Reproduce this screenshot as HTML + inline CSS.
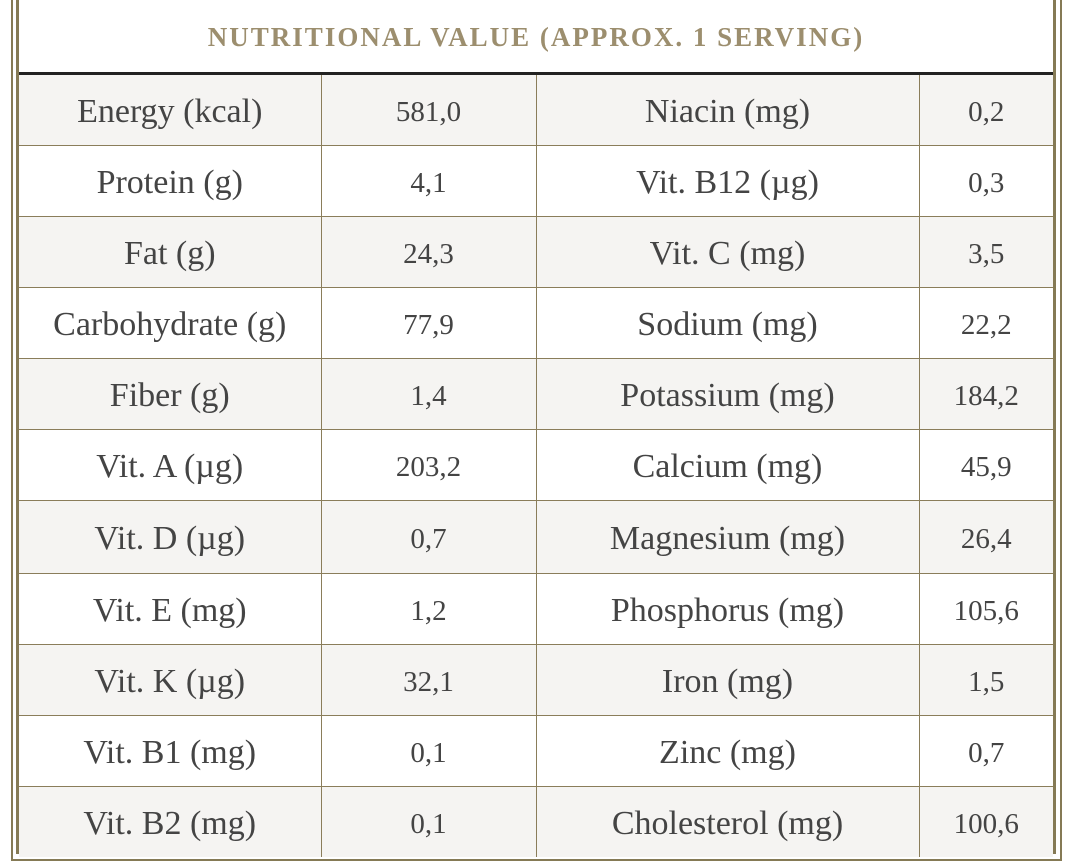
<!DOCTYPE html>
<html><head><meta charset="utf-8"><style>
body{margin:0;width:1070px;height:865px;background:#fff;position:relative;overflow:hidden;font-family:"Liberation Serif",serif;}
.ob{position:absolute;left:11px;top:-5px;width:1047px;height:864px;border:2px solid #857a55;border-top:none;}
.ib{position:absolute;left:16px;top:-5px;width:1034px;height:856px;border:3px solid #857a55;border-top:none;}
.title{position:absolute;left:19px;top:22px;width:1034px;text-align:center;font-weight:bold;font-size:27px;letter-spacing:2px;color:#9c8e6e;}
.hl{position:absolute;left:19px;top:72px;width:1034px;height:3px;background:#222;}
table{position:absolute;left:19px;top:75px;width:1034px;border-collapse:collapse;table-layout:fixed;}
td{height:70px;border:1px solid #8a7d5a;text-align:center;color:#444;font-size:34px;padding:4px 0 0 0;box-sizing:border-box;line-height:66px;}
td.n{font-size:29px;}
tr:nth-child(odd) td{background:#f5f4f2;}
tr:first-child td{border-top:none;}
td:first-child{border-left:none;} td:last-child{border-right:none;}
tr:last-child td{border-bottom:none;}
</style></head><body>
<div class="ob"></div>
<div class="ib"></div>
<div class="title">NUTRITIONAL VALUE (APPROX. 1 SERVING)</div>
<div class="hl"></div>
<table>
<colgroup><col style="width:302px"><col style="width:215px"><col style="width:383px"><col style="width:134px"></colgroup>
<tr><td>Energy (kcal)</td><td class="n">581,0</td><td>Niacin (mg)</td><td class="n">0,2</td></tr>
<tr><td>Protein (g)</td><td class="n">4,1</td><td>Vit. B12 (µg)</td><td class="n">0,3</td></tr>
<tr><td>Fat (g)</td><td class="n">24,3</td><td>Vit. C (mg)</td><td class="n">3,5</td></tr>
<tr><td>Carbohydrate (g)</td><td class="n">77,9</td><td>Sodium (mg)</td><td class="n">22,2</td></tr>
<tr><td>Fiber (g)</td><td class="n">1,4</td><td>Potassium (mg)</td><td class="n">184,2</td></tr>
<tr><td>Vit. A (µg)</td><td class="n">203,2</td><td>Calcium (mg)</td><td class="n">45,9</td></tr>
<tr><td style="height:73px">Vit. D (µg)</td><td class="n">0,7</td><td>Magnesium (mg)</td><td class="n">26,4</td></tr>
<tr><td>Vit. E (mg)</td><td class="n">1,2</td><td>Phosphorus (mg)</td><td class="n">105,6</td></tr>
<tr><td>Vit. K (µg)</td><td class="n">32,1</td><td>Iron (mg)</td><td class="n">1,5</td></tr>
<tr><td>Vit. B1 (mg)</td><td class="n">0,1</td><td>Zinc (mg)</td><td class="n">0,7</td></tr>
<tr><td>Vit. B2 (mg)</td><td class="n">0,1</td><td>Cholesterol (mg)</td><td class="n">100,6</td></tr>
</table>
</body></html>
